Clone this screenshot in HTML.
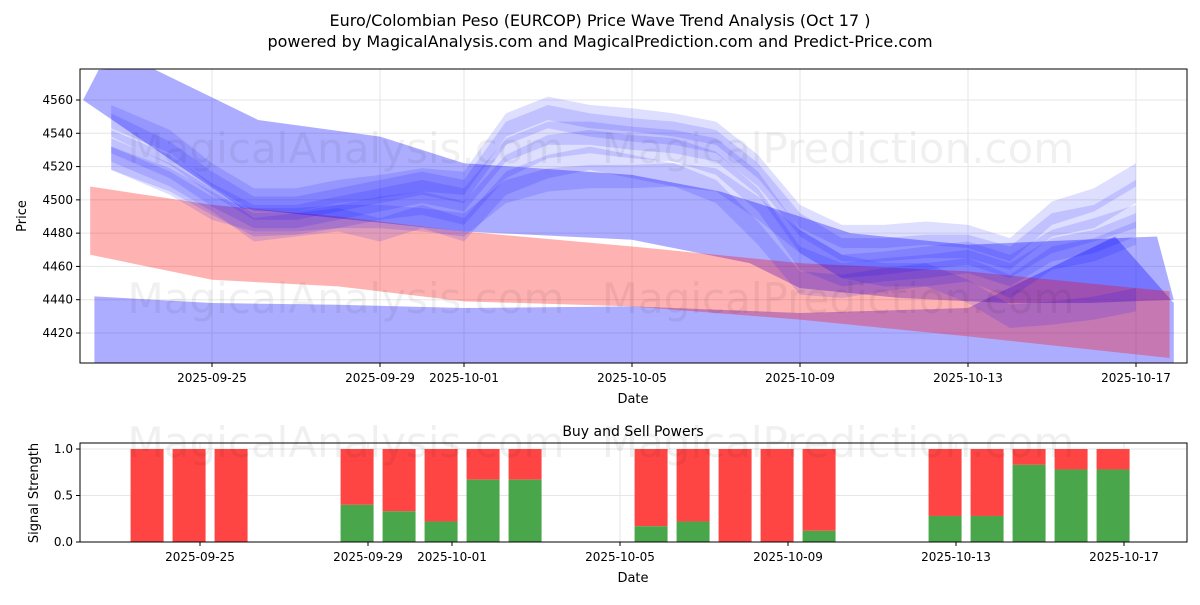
<!DOCTYPE html>
<html><head><meta charset="utf-8"><style>
body{margin:0;background:#fff;font-family:"Liberation Sans","DejaVu Sans",sans-serif}
svg text{font-family:"DejaVu Sans","Liberation Sans",sans-serif}
</style></head><body>
<svg id="c" width="1200" height="600" viewBox="0 0 1200 600" xmlns="http://www.w3.org/2000/svg">
<text x="600" y="26" font-size="16" text-anchor="middle">Euro/Colombian Peso (EURCOP) Price Wave Trend Analysis (Oct 17 )</text>
<text x="600" y="47" font-size="16" text-anchor="middle">powered by MagicalAnalysis.com and MagicalPrediction.com and Predict-Price.com</text>
<g id="topg"></g>
<g id="botg"></g>
</svg>
<script>
// ---- data ----
const dateTicks = ['2025-09-25','2025-09-29','2025-10-01','2025-10-05','2025-10-09','2025-10-13','2025-10-17'];
const dateTickDays = [0,4,6,10,14,18,22];
const priceTicks = [4420,4440,4460,4480,4500,4520,4540,4560];
const strengthTicks = [0,0.5,1];
const strengthLabels = ['0.0','0.5','1.0'];
const redDays = [-2.9,0,3,6,10,14,18,22.8];
const redUpper = [4508,4497,4490,4481,4472,4462,4457,4445];
const redLower = [4467,4452,4448,4439,4436,4428,4418,4405];
const lowDays = [-2.8,0,3,6,10,14,18,21.5,22.9];
const lowTop = [4442,4438,4437,4435,4436,4432,4435,4478,4438];
const bigTopDays = [-2.7,-1.5,1.1,4,6,10,12.1,14,15.2,18,22.5,22.9];
const bigTop = [4578,4580,4548,4538,4522,4515,4505,4490,4480,4473,4478,4440];
const bigLowDays = [-3.07,0.7,6,10,12.8,14,16.4,18.9,20.9,22.9];
const bigLow = [4560,4495,4481,4476,4462,4447,4441,4438,4438,4440];
const waveDays = [-2.4,-1,0,1,2,3,4,5,6,7,8,9,10,11,12,13,14,15,16,17,18,19,20,21,22];
const wave1 = [4535,4520,4503,4490,4490,4495,4500,4505,4500,4530,4540,4540,4537,4535,4530,4510,4475,4460,4462,4465,4468,4460,4475,4482,4490];
const wave2 = [4545,4528,4510,4495,4495,4500,4505,4510,4505,4540,4550,4545,4542,4540,4535,4515,4485,4470,4470,4472,4472,4465,4485,4490,4505];
const wave3 = [4525,4512,4498,4485,4486,4490,4495,4498,4492,4520,4532,4535,4532,4530,4522,4500,4465,4455,4458,4460,4463,4455,4470,4475,4485];
const wave4 = [4550,4535,4515,4500,4500,4505,4508,4512,4510,4545,4555,4550,4548,4545,4540,4520,4490,4478,4478,4480,4478,4470,4492,4500,4515];
const wave5 = [4530,4515,4500,4482,4485,4488,4482,4490,4482,4510,4520,4525,4520,4515,4505,4480,4450,4448,4452,4455,4458,4448,4465,4470,4480];
const wave6 = [4525,4510,4495,4488,4488,4490,4490,4488,4485,4505,4512,4514,4514,4515,4512,4495,4475,4460,4455,4455,4445,4430,4432,4435,4440];
const waves = [wave1,wave2,wave3,wave4,wave5,wave6];
const barDays = [-1,0,1,4,5,6,7,8,11,12,13,14,15,18,19,20,21,22];
const buyPower = [0,0,0,0.4,0.33,0.22,0.67,0.67,0.17,0.22,0,0,0.12,0.28,0.28,0.83,0.78,0.78];

// ---- scales ----
const NS='http://www.w3.org/2000/svg';
const T={l:80,r:1187,t:69,b:363}, B={l:80,r:1187,t:443,b:542};
const xT=d=>212+42*d, yT=p=>333-(p-4420)*(233/140);
const xB=d=>200+42*d, yB=v=>542-v*93;
function mk(tag,attrs,parent){const e=document.createElementNS(NS,tag);for(const k in attrs)e.setAttribute(k,attrs[k]);parent.appendChild(e);return e;}
const topG=document.getElementById('topg'), botG=document.getElementById('botg'), svgRoot=document.getElementById('c');
const cp=mk('clipPath',{id:'cpT'},topG);mk('rect',{x:T.l,y:T.t,width:T.r-T.l,height:T.b-T.t},cp);

dateTickDays.forEach(d=>{const l=mk('line',{x1:xT(d),x2:xT(d),y1:T.t,y2:T.b,stroke:'#e6e6e6'},topG);

});
priceTicks.forEach(p=>{const l=mk('line',{x1:T.l,x2:T.r,y1:yT(p),y2:yT(p),stroke:'#e6e6e6'},topG);

});

const plot=mk('g',{'clip-path':'url(#cpT)'},topG);
function band(dx,up,ux,lo,fill,op,name){
  let pts=dx.map((d,i)=>xT(d)+','+yT(up[i]));
  pts=pts.concat(ux.map((d,i)=>xT(d)+','+yT(lo[i])).reverse());
  const p=mk('polygon',{points:pts.join(' '),fill:fill,'fill-opacity':op},plot);
  
  
}
band(lowDays,lowTop,[lowDays[0],lowDays[lowDays.length-1]],[4390,4390],'#0000ff',0.32,'lower-wave-band');
band(bigTopDays,bigTop,bigLowDays,bigLow,'#0000ff',0.32,'upper-wave-band');
band(redDays,redUpper,redDays,redLower,'#ff0000',0.3,'trend-band');
waves.forEach((w,k)=>{
  band(waveDays,w.map(v=>v+7),waveDays,w.map(v=>v-7),'#0000ff',0.13,'wave-band-'+(k+1));
});
[['MagicalAnalysis.com',346,163],['MagicalPrediction.com',838,163],['MagicalAnalysis.com',346,313],['MagicalPrediction.com',838,313],['MagicalAnalysis.com',346,457],['MagicalPrediction.com',838,457]].forEach(w=>{
  const t=mk('text',{x:w[1],y:w[2],'font-size':42,'text-anchor':'middle',fill:'#000','fill-opacity':0.06},svgRoot);t.textContent=w[0];
  
  
});
mk('rect',{x:T.l,y:T.t,width:T.r-T.l,height:T.b-T.t,fill:'none',stroke:'#000'},topG);
dateTickDays.forEach((d,i)=>{mk('line',{x1:xT(d),x2:xT(d),y1:T.b,y2:T.b+4,stroke:'#000'},topG);
const t=mk('text',{x:xT(d),y:T.b+19,'font-size':12,'text-anchor':'middle'},topG);t.textContent=dateTicks[i];

});
priceTicks.forEach(p=>{mk('line',{x1:T.l-4,x2:T.l,y1:yT(p),y2:yT(p),stroke:'#000'},topG);
const t=mk('text',{x:T.l-7,y:yT(p)+4,'font-size':12,'text-anchor':'end'},topG);t.textContent=p;

});
let tx=mk('text',{x:633,y:403,'font-size':13,'text-anchor':'middle'},topG);tx.textContent='Date';


tx=mk('text',{x:26,y:216,'font-size':13,'text-anchor':'middle',transform:'rotate(-90 26 216)'},topG);tx.textContent='Price';



dateTickDays.forEach(d=>{mk('line',{x1:xB(d),x2:xB(d),y1:B.t,y2:B.b,stroke:'#e6e6e6'},botG);});
strengthTicks.forEach(v=>{mk('line',{x1:B.l,x2:B.r,y1:yB(v),y2:yB(v),stroke:'#e6e6e6'},botG);});
barDays.forEach((d,i)=>{
  const cx=xB(d-0.26), w=33;
  const r=mk('rect',{x:cx-w/2,y:yB(1),width:w,height:yB(buyPower[i])-yB(1),fill:'#ff4444'},botG);
  
  
  const g=mk('rect',{x:cx-w/2,y:yB(buyPower[i]),width:w,height:yB(0)-yB(buyPower[i]),fill:'#4aa64a'},botG);
  
  
});
mk('rect',{x:B.l,y:B.t,width:B.r-B.l,height:B.b-B.t,fill:'none',stroke:'#000'},botG);
dateTickDays.forEach((d,i)=>{mk('line',{x1:xB(d),x2:xB(d),y1:B.b,y2:B.b+4,stroke:'#000'},botG);
const t=mk('text',{x:xB(d),y:B.b+19,'font-size':12,'text-anchor':'middle'},botG);t.textContent=dateTicks[i];

});
strengthTicks.forEach((v,i)=>{mk('line',{x1:B.l-4,x2:B.l,y1:yB(v),y2:yB(v),stroke:'#000'},botG);
const t=mk('text',{x:B.l-7,y:yB(v)+4,'font-size':12,'text-anchor':'end'},botG);t.textContent=strengthLabels[i];

});
tx=mk('text',{x:633,y:436,'font-size':14,'text-anchor':'middle'},botG);tx.textContent='Buy and Sell Powers';


tx=mk('text',{x:633,y:582,'font-size':13,'text-anchor':'middle'},botG);tx.textContent='Date';


tx=mk('text',{x:38,y:493,'font-size':13,'text-anchor':'middle',transform:'rotate(-90 38 493)'},botG);tx.textContent='Signal Strength';


</script>
</body></html>
